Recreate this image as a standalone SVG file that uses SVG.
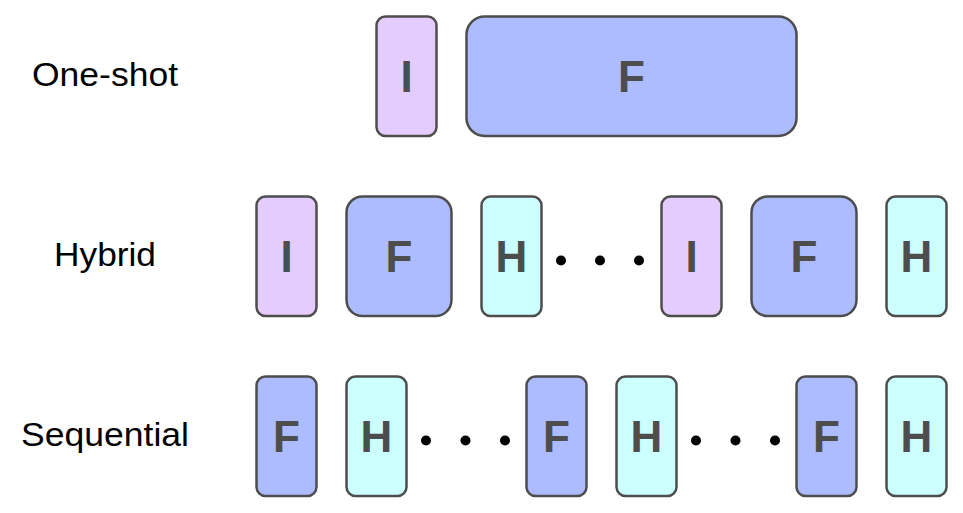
<svg xmlns="http://www.w3.org/2000/svg" width="963" height="513" viewBox="0 0 963 513">
<style>
.b{stroke:#4d4d4d;stroke-width:2.5}
.i{fill:#e5ccff}
.f{fill:#adbbff}
.h{fill:#ccffff}
.t{font-family:"Liberation Sans",Arial,sans-serif;font-weight:bold;font-size:44px;fill:#4d4d4d;text-anchor:middle}
.l{font-family:"Liberation Sans",Arial,sans-serif;font-size:33px;fill:#000}
.d{fill:#000}
</style>
<rect width="963" height="513" fill="#fff"/>
<g id="labels">
<text class="l" x="32" y="86" textLength="146" lengthAdjust="spacingAndGlyphs">One-shot</text>
<text class="l" x="54" y="266" textLength="102" lengthAdjust="spacingAndGlyphs">Hybrid</text>
<text class="l" x="21" y="446" textLength="168" lengthAdjust="spacingAndGlyphs">Sequential</text>
</g>
<g id="oneshot">
<g id="os-i"><rect class="b i" x="376.5" y="16.5" width="60" height="119.5" rx="9"/><text class="t" x="406.5" y="92">I</text></g>
<g id="os-f"><rect class="b f" x="466.5" y="16.5" width="330" height="119.5" rx="18"/><text class="t" x="631.5" y="92">F</text></g>
</g>
<g id="hybrid">
<g id="hy-i1"><rect class="b i" x="256.5" y="196.5" width="60" height="119.5" rx="9"/><text class="t" x="286.5" y="272">I</text></g>
<g id="hy-f1"><rect class="b f" x="346.5" y="196.5" width="105" height="119.5" rx="16"/><text class="t" x="399" y="272">F</text></g>
<g id="hy-h1"><rect class="b h" x="481.5" y="196.5" width="60" height="119.5" rx="9"/><text class="t" x="511.5" y="272">H</text></g>
<g id="hy-dots"><circle class="d" cx="561" cy="260.5" r="5"/><circle class="d" cx="600" cy="260.5" r="5"/><circle class="d" cx="639" cy="260.5" r="5"/></g>
<g id="hy-i2"><rect class="b i" x="661.5" y="196.5" width="60" height="119.5" rx="9"/><text class="t" x="691.5" y="272">I</text></g>
<g id="hy-f2"><rect class="b f" x="751.5" y="196.5" width="105" height="119.5" rx="16"/><text class="t" x="804" y="272">F</text></g>
<g id="hy-h2"><rect class="b h" x="886.5" y="196.5" width="60" height="119.5" rx="9"/><text class="t" x="916.5" y="272">H</text></g>
</g>
<g id="sequential">
<g id="sq-f1"><rect class="b f" x="256.5" y="376.5" width="60" height="119.5" rx="9"/><text class="t" x="286.5" y="452">F</text></g>
<g id="sq-h1"><rect class="b h" x="346.5" y="376.5" width="60" height="119.5" rx="9"/><text class="t" x="376.5" y="452">H</text></g>
<g id="sq-dots1"><circle class="d" cx="426" cy="440.5" r="5"/><circle class="d" cx="465.5" cy="440.5" r="5"/><circle class="d" cx="505" cy="440.5" r="5"/></g>
<g id="sq-f2"><rect class="b f" x="526.5" y="376.5" width="60" height="119.5" rx="9"/><text class="t" x="556.5" y="452">F</text></g>
<g id="sq-h2"><rect class="b h" x="616.5" y="376.5" width="60" height="119.5" rx="9"/><text class="t" x="646.5" y="452">H</text></g>
<g id="sq-dots2"><circle class="d" cx="696" cy="440.5" r="5"/><circle class="d" cx="735.5" cy="440.5" r="5"/><circle class="d" cx="775" cy="440.5" r="5"/></g>
<g id="sq-f3"><rect class="b f" x="796.5" y="376.5" width="60" height="119.5" rx="9"/><text class="t" x="826.5" y="452">F</text></g>
<g id="sq-h3"><rect class="b h" x="886.5" y="376.5" width="60" height="119.5" rx="9"/><text class="t" x="916.5" y="452">H</text></g>
</g>
<g id="connectors"/>
</svg>
